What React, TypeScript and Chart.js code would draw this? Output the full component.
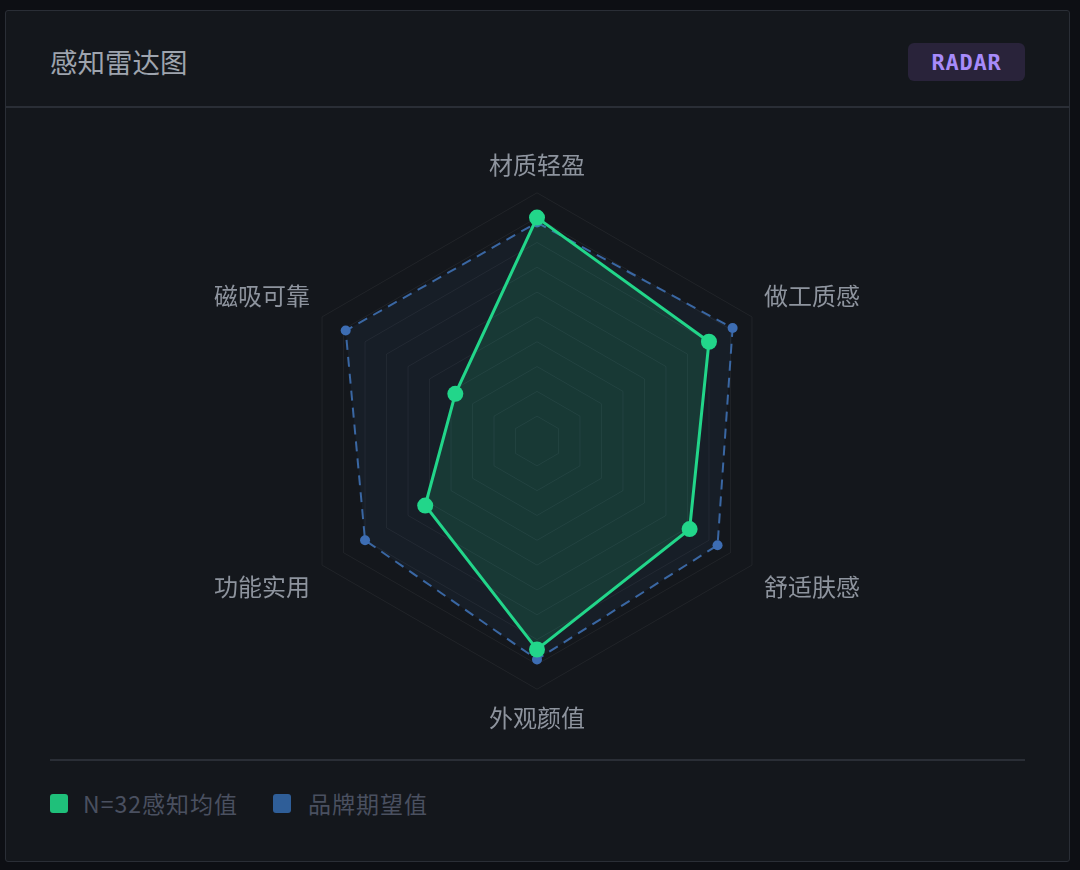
import React, { useRef, useEffect } from 'react';
import Chart from 'chart.js/auto';

const dimensions = ['材质轻盈', '做工质感', '舒适肤感', '外观颜值', '功能实用', '磁吸可靠'];
const perceivedMean = [9.0, 8.0, 7.1, 8.4, 5.2, 3.8];
const brandExpected = [8.8, 9.1, 8.4, 8.8, 8.0, 8.9];
const legendLabels = ['N=32感知均值', '品牌期望值'];

const GREEN = '#22d68a';
const BLUE = '#3a67a3';
const CJK = '"Noto Sans CJK SC", "Noto Sans", sans-serif';

const RadarChart: React.FC = () => {
    const chartRef = useRef<HTMLCanvasElement>(null);

    useEffect(() => {
        const ctx = chartRef.current?.getContext('2d');
        if (!ctx) return;

        const chart = new Chart(ctx, {
            type: 'radar',
            data: {
                labels: dimensions,
                datasets: [
                    {
                        label: legendLabels[0],
                        data: perceivedMean,
                        borderColor: GREEN,
                        backgroundColor: 'rgba(34, 214, 138, 0.15)',
                        borderWidth: 3,
                        pointRadius: 8,
                        pointBackgroundColor: GREEN,
                        pointBorderWidth: 0,
                        fill: true,
                    },
                    {
                        label: legendLabels[1],
                        data: brandExpected,
                        borderColor: BLUE,
                        backgroundColor: 'rgba(60, 110, 180, 0.08)',
                        borderWidth: 2,
                        borderDash: [10, 7],
                        pointRadius: 5,
                        pointBackgroundColor: '#3d6db3',
                        pointBorderWidth: 0,
                        fill: true,
                    },
                ],
            },
            options: {
                responsive: false,
                animation: false,
                plugins: {
                    legend: { display: false },
                    tooltip: { enabled: false },
                },
                scales: {
                    r: {
                        min: 0,
                        max: 10,
                        ticks: { display: false, stepSize: 1 },
                        grid: { color: 'rgba(255, 255, 255, 0.055)', lineWidth: 1 },
                        angleLines: { display: false },
                        pointLabels: {
                            color: '#8e949e',
                            padding: 14,
                            font: { family: CJK, size: 24 },
                        },
                    },
                },
            },
        });

        return () => chart.destroy();
    }, []);

    return <canvas ref={chartRef} width={1000} height={582} style={{ width: 1000, height: 582 }} />;
};

const App: React.FC = () => {
    return (
        <div style={{ position: 'fixed', inset: 0, background: '#0d0f14', fontFamily: CJK }}>
            <div
                style={{
                    position: 'absolute',
                    left: 5,
                    top: 10,
                    width: 1063,
                    height: 850,
                    background: '#14171c',
                    border: '1.5px solid #2a2e36',
                    borderRadius: 3,
                }}
            />
            <div style={{ position: 'absolute', left: 6, top: 106, width: 1063, height: 1.5, background: '#2a2e36' }} />
            <div
                style={{
                    position: 'absolute',
                    left: 50,
                    top: 42,
                    fontSize: 27.5,
                    lineHeight: '38px',
                    color: '#9ea4ae',
                }}
            >
                感知雷达图
            </div>
            <div
                style={{
                    position: 'absolute',
                    left: 908,
                    top: 43,
                    width: 117,
                    height: 38,
                    borderRadius: 6,
                    background: '#29233a',
                    color: '#a78bfa',
                    fontFamily: '"DejaVu Sans Mono", monospace',
                    fontWeight: 'bold',
                    fontSize: 22,
                    letterSpacing: 0.8,
                    display: 'flex',
                    alignItems: 'center',
                    justifyContent: 'center',
                }}
            >
                RADAR
            </div>
            <div style={{ position: 'absolute', left: 37, top: 150 }}>
                <RadarChart />
            </div>
            <div style={{ position: 'absolute', left: 50, top: 759, width: 975, height: 1.5, background: '#2a2e36' }} />
            <div
                style={{
                    position: 'absolute',
                    left: 50,
                    top: 786,
                    display: 'flex',
                    alignItems: 'center',
                    fontSize: 23,
                    color: '#4a5060',
                    letterSpacing: 1,
                }}
            >
                <span style={{ width: 18, height: 19, borderRadius: 3, background: '#1fc07a', display: 'inline-block' }} />
                <span style={{ marginLeft: 15 }}>{legendLabels[0]}</span>
                <span style={{ width: 18, height: 19, borderRadius: 3, background: '#2f5e98', display: 'inline-block', marginLeft: 35 }} />
                <span style={{ marginLeft: 17 }}>{legendLabels[1]}</span>
            </div>
        </div>
    );
};

export default App;
